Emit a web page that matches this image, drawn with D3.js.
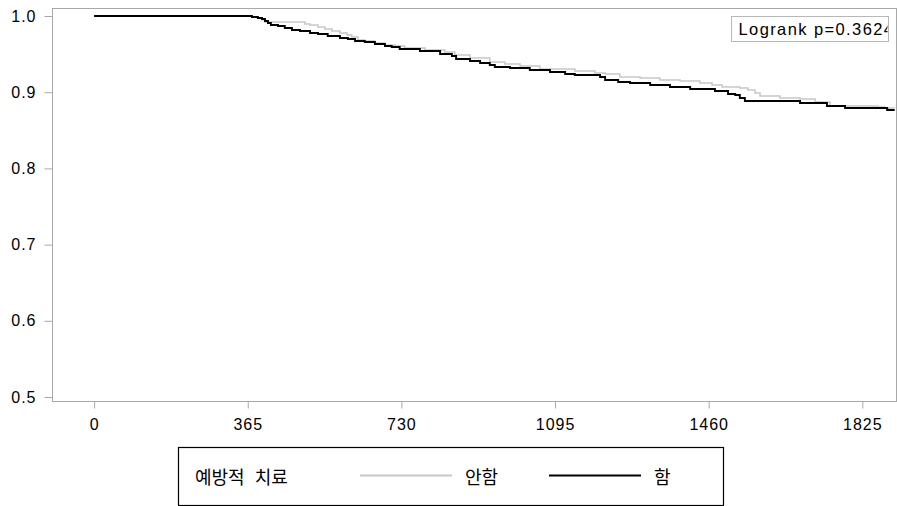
<!DOCTYPE html>
<html>
<head>
<meta charset="utf-8">
<script src="https://cdn.jsdelivr.net/npm/d3@7"></script>
<style>
  html, body { margin: 0; padding: 0; background: #fff; }
  svg { display: block; }
  .tick-label { font-family: "Liberation Sans", Arial, sans-serif; font-size: 16px; letter-spacing: 1px; fill: #000; }
  .note-text { font-family: "Liberation Sans", Arial, sans-serif; font-size: 16.5px; letter-spacing: 1.4px; fill: #000; }
  .legend-text { font-family: "Noto Sans CJK KR", sans-serif; font-size: 18px; word-spacing: 6px; fill: #000; }
</style>
</head>
<body>
<svg id="chart" width="897" height="506"></svg>
<script>
// Kaplan-Meier survival estimates by preventive treatment group (days, survival)
const xTicks = [0, 365, 730, 1095, 1460, 1825];
const yTicks = [0.5, 0.6, 0.7, 0.8, 0.9, 1.0];

const groupNames = ["안함", "함"];
const legendTitle = "예방적 치료";
const logrankText = "Logrank p=0.3624";

// 안함 (no preventive treatment)
const anhamDays = [0, 370, 375, 389, 399, 406, 501, 513, 532, 548, 565, 584, 601, 612, 627, 643, 667, 691, 715, 738,
  786, 833, 857, 893, 940, 976, 1012, 1059, 1142, 1190, 1214, 1249, 1297, 1344, 1392, 1439, 1468, 1492,
  1534, 1553, 1570, 1582, 1629, 1677, 1713, 1748, 1862, 1879, 1902];
const anhamSurv = [1.0, 1.0, 0.9987, 0.9974, 0.9948, 0.9921, 0.9895, 0.9882, 0.9856, 0.9829, 0.9803, 0.9777, 0.9751, 0.9724, 0.9685, 0.9672, 0.9646, 0.9619, 0.9606, 0.9580,
  0.9554, 0.9528, 0.9488, 0.9449, 0.9396, 0.9370, 0.9344, 0.9304, 0.9278, 0.9252, 0.9239, 0.9199, 0.9186, 0.9160, 0.9147, 0.9121, 0.9094, 0.9068,
  0.9055, 0.9029, 0.8990, 0.8950, 0.8924, 0.8911, 0.8871, 0.8819, 0.8806, 0.8793, 0.8793];

// 함 (preventive treatment)
const hamDays = [0, 370, 375, 389, 399, 406, 413, 420, 437, 453, 470, 489, 513, 532, 555, 584, 603, 620, 643, 667,
  691, 707, 726, 774, 822, 850, 860, 893, 917, 940, 952, 988, 1035, 1083, 1119, 1142, 1202, 1214, 1245, 1273,
  1321, 1368, 1416, 1475, 1506, 1523, 1534, 1546, 1677, 1741, 1784, 1884, 1902];
const hamSurv = [1.0, 1.0, 0.9987, 0.9974, 0.9961, 0.9934, 0.9908, 0.9882, 0.9869, 0.9843, 0.9816, 0.9803, 0.9777, 0.9764, 0.9738, 0.9711, 0.9698, 0.9672, 0.9659, 0.9633,
  0.9606, 0.9593, 0.9567, 0.9541, 0.9501, 0.9475, 0.9436, 0.9409, 0.9383, 0.9357, 0.9331, 0.9318, 0.9291, 0.9265, 0.9239, 0.9226, 0.9199, 0.9160, 0.9134, 0.9121,
  0.9094, 0.9068, 0.9042, 0.9016, 0.8976, 0.8963, 0.8924, 0.8885, 0.8858, 0.8819, 0.8793, 0.8766, 0.8766];

const colors = ["#c8c8c8", "#000000"];

const svg = d3.select("#chart");
const frame = { left: 52.5, top: 8.5, right: 896.5, bottom: 401.5 };

const x = d3.scaleLinear().domain([-100, 1905]).range([52, 896]);
const y = d3.scaleLinear().domain([0.5, 1.0]).range([397, 16]);

// plot frame
svg.append("rect")
  .attr("x", frame.left).attr("y", frame.top)
  .attr("width", frame.right - frame.left).attr("height", frame.bottom - frame.top)
  .attr("fill", "#fff").attr("stroke", "#a8a8a8").attr("stroke-width", 1);

// y axis
const yAxis = svg.append("g").attr("transform", `translate(${frame.left},0)`)
  .call(d3.axisLeft(y).tickValues(yTicks).tickFormat(d3.format(".1f")).tickSize(8).tickPadding(8));
yAxis.select(".domain").remove();
yAxis.selectAll(".tick line").attr("stroke", "#a8a8a8");
yAxis.selectAll(".tick text").attr("class", "tick-label").attr("font-size", null).attr("font-family", null);

// x axis
const xAxis = svg.append("g").attr("transform", `translate(0,${frame.bottom})`)
  .call(d3.axisBottom(x).tickValues(xTicks).tickFormat(d3.format("d")).tickSize(7).tickPadding(10));
xAxis.select(".domain").remove();
xAxis.selectAll(".tick line").attr("stroke", "#a8a8a8");
xAxis.selectAll(".tick text").attr("class", "tick-label").attr("font-size", null).attr("font-family", null);

// survival curves
const line = d3.line().x(d => x(d[0])).y(d => y(d[1])).curve(d3.curveStepAfter);
const series = [
  { name: groupNames[0], days: anhamDays, surv: anhamSurv, color: colors[0], width: 1.6 },
  { name: groupNames[1], days: hamDays, surv: hamSurv, color: colors[1], width: 1.9 }
];
series.forEach(s => {
  svg.append("path")
    .datum(s.days.map((d, i) => [d, s.surv[i]]))
    .attr("fill", "none")
    .attr("stroke", s.color)
    .attr("stroke-width", s.width)
    .attr("d", line);
});

// logrank annotation box
const lb = { x: 731.5, y: 16.5, w: 157, h: 25 };
svg.append("clipPath").attr("id", "lrclip")
  .append("rect").attr("x", lb.x).attr("y", lb.y).attr("width", lb.w - 1).attr("height", lb.h);
svg.append("rect")
  .attr("x", lb.x).attr("y", lb.y).attr("width", lb.w).attr("height", lb.h)
  .attr("fill", "#fff").attr("stroke", "#b8b8b8");
svg.append("text")
  .attr("clip-path", "url(#lrclip)")
  .attr("class", "note-text")
  .attr("x", lb.x + 7).attr("y", lb.y + 18.5)
  .text(logrankText);

// legend
const lg = svg.append("g");
lg.append("rect")
  .attr("x", 178.5).attr("y", 447.5).attr("width", 545).attr("height", 58)
  .attr("fill", "#fff").attr("stroke", "#000").attr("stroke-width", 1.2);
lg.append("text").attr("class", "legend-text")
  .attr("x", 195).attr("y", 484).text(legendTitle);
const legendItems = [
  { x0: 360, x1: 452, tx: 465 },
  { x0: 549, x1: 641, tx: 654 }
];
series.forEach((s, i) => {
  const it = legendItems[i];
  lg.append("line")
    .attr("x1", it.x0).attr("x2", it.x1).attr("y1", 475.5).attr("y2", 475.5)
    .attr("stroke", s.color).attr("stroke-width", i === 0 ? 2 : 2.2);
  lg.append("text").attr("class", "legend-text")
    .attr("x", it.tx).attr("y", 484).text(s.name);
});
</script>
</body>
</html>
